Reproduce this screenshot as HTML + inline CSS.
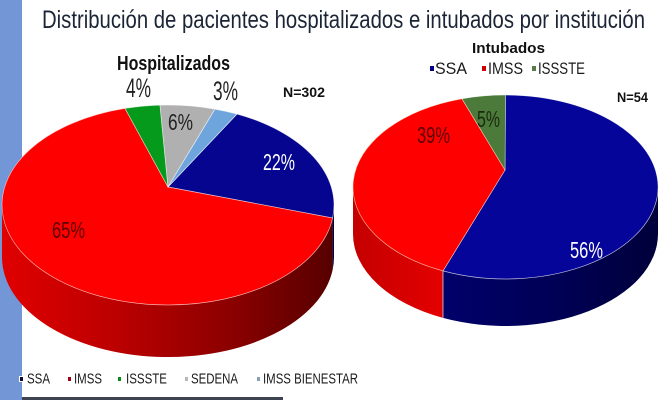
<!DOCTYPE html>
<html><head><meta charset="utf-8"><style>
html,body{margin:0;padding:0;background:#fff;}
svg{display:block;}
text{font-family:"Liberation Sans",Arial,sans-serif;}
</style></head><body>
<svg width="660" height="400" viewBox="0 0 660 400" xmlns="http://www.w3.org/2000/svg">
<defs>
<linearGradient id="rs1" x1="0" y1="0" x2="1" y2="0">
<stop offset="0" stop-color="#e00000"/>
<stop offset="0.35" stop-color="#bb0000"/>
<stop offset="0.7" stop-color="#8a0000"/>
<stop offset="1" stop-color="#560000"/>
</linearGradient>
<linearGradient id="rs2" x1="0" y1="0" x2="1" y2="0">
<stop offset="0" stop-color="#c40000"/>
<stop offset="1" stop-color="#e40000"/>
</linearGradient>
<linearGradient id="bs2" x1="0" y1="0" x2="1" y2="0">
<stop offset="0" stop-color="#00006a"/>
<stop offset="0.6" stop-color="#000052"/>
<stop offset="1" stop-color="#00003a"/>
</linearGradient>
</defs>
<rect width="660" height="400" fill="#fff"/>
<rect x="0" y="0" width="22" height="400" fill="#7396d6"/>
<rect x="22" y="397" width="261" height="3" fill="#3d4350"/>

<text x="42" y="28" font-size="25" fill="#1c2536" textLength="603" lengthAdjust="spacingAndGlyphs">Distribución de pacientes hospitalizados e intubados por institución</text>

<!-- Left pie: Hospitalizados -->
<path d="M332.6,218 A166,100 0 0 1 2,205 L2,257 A166,100 0 0 0 332.6,270 Z" fill="url(#rs1)"/>
<path d="M334,205 A166,100 0 0 1 332.6,218 L332.6,270 A166,100 0 0 0 334,257 Z" fill="#00003f"/>
<path d="M168,187 L237,114 A166,100 0 0 1 332.6,218 Z" fill="#05058f" stroke="#fff" stroke-width="0.7" stroke-opacity="0.7"/>
<path d="M168,187 L332.6,218 A166,100 0 1 1 125,108.4 Z" fill="#fe0000" stroke="#ffe0e0" stroke-width="0.7" stroke-opacity="0.7"/>
<path d="M168,187 L125,108.4 A166,100 0 0 1 160,105.1 Z" fill="#069a1c" stroke="#fff" stroke-width="0.7" stroke-opacity="0.6"/>
<path d="M168,187 L160,105.1 A166,100 0 0 1 215,109.1 Z" fill="#b0b0b0" stroke="#fff" stroke-width="0.7" stroke-opacity="0.6"/>
<path d="M168,187 L215,109.1 A166,100 0 0 1 237,114 Z" fill="#6ea5dc" stroke="#fff" stroke-width="0.7" stroke-opacity="0.7"/>

<text x="117" y="70" font-size="20" font-weight="bold" fill="#111" textLength="113" lengthAdjust="spacingAndGlyphs">Hospitalizados</text>
<text x="126" y="97" font-size="27" fill="#222" textLength="25" lengthAdjust="spacingAndGlyphs">4%</text>
<text x="213" y="100" font-size="27" fill="#222" textLength="25" lengthAdjust="spacingAndGlyphs">3%</text>
<text x="283" y="97" font-size="14" font-weight="bold" fill="#111" textLength="42" lengthAdjust="spacingAndGlyphs">N=302</text>
<text x="168" y="130" font-size="23" fill="#222" textLength="25" lengthAdjust="spacingAndGlyphs">6%</text>
<text x="263" y="170" font-size="23" fill="#fff" textLength="32" lengthAdjust="spacingAndGlyphs">22%</text>
<text x="52" y="238" font-size="23" fill="#5c0000" textLength="33" lengthAdjust="spacingAndGlyphs">65%</text>

<!-- Right pie: Intubados -->
<path d="M658,187 A152.5,92 0 0 1 443,270.9 L443,317.9 A152.5,92 0 0 0 658,234 Z" fill="url(#bs2)"/>
<path d="M443,270.9 A152.5,92 0 0 1 353,187 L353,234 A152.5,92 0 0 0 443,317.9 Z" fill="url(#rs2)"/>
<path d="M505,170 L505.5,95 A152.5,92 0 1 1 443,270.9 Z" fill="#05059a" stroke="#fff" stroke-width="0.7" stroke-opacity="0.7"/>
<path d="M505,170 L443,270.9 A152.5,92 0 0 1 462,98.8 Z" fill="#fe0000" stroke="#ffe0c0" stroke-width="0.7" stroke-opacity="0.7"/>
<path d="M505,170 L462,98.8 A152.5,92 0 0 1 505.5,95 Z" fill="#4c7a3a" stroke="#fff" stroke-width="0.6" stroke-opacity="0.6"/>
<line x1="443" y1="270.9" x2="443" y2="317.9" stroke="#fff" stroke-width="0.8" stroke-opacity="0.8"/>

<text x="472" y="53" font-size="15" font-weight="bold" fill="#111" textLength="73" lengthAdjust="spacingAndGlyphs">Intubados</text>
<rect x="430" y="66" width="4" height="5" fill="#000080"/>
<text x="435" y="74" font-size="17" fill="#1a1a1a" textLength="32" lengthAdjust="spacingAndGlyphs">SSA</text>
<rect x="482" y="66" width="4" height="5" fill="#d00000"/>
<text x="488" y="74" font-size="17" fill="#1a1a1a" textLength="35" lengthAdjust="spacingAndGlyphs">IMSS</text>
<rect x="532" y="66" width="4" height="5" fill="#5a7a4a"/>
<text x="538" y="74" font-size="17" fill="#1a1a1a" textLength="47" lengthAdjust="spacingAndGlyphs">ISSSTE</text>
<text x="617" y="102" font-size="14" font-weight="bold" fill="#111" textLength="31" lengthAdjust="spacingAndGlyphs">N=54</text>
<text x="417" y="143" font-size="23" fill="#5c0000" textLength="33" lengthAdjust="spacingAndGlyphs">39%</text>
<text x="477" y="127" font-size="23" fill="#1a2a10" textLength="23" lengthAdjust="spacingAndGlyphs">5%</text>
<text x="570" y="258" font-size="23" fill="#fff" textLength="33" lengthAdjust="spacingAndGlyphs">56%</text>

<!-- Bottom legend -->
<rect x="19" y="376" width="5" height="6" fill="#fff"/>
<rect x="20" y="377" width="3" height="4" fill="#0a0a30"/>
<text x="27" y="383.5" font-size="15" fill="#1a1a1a" textLength="23" lengthAdjust="spacingAndGlyphs">SSA</text>
<rect x="68" y="377" width="3" height="4" fill="#a00010"/>
<text x="74" y="383.5" font-size="15" fill="#1a1a1a" textLength="28" lengthAdjust="spacingAndGlyphs">IMSS</text>
<rect x="118" y="377" width="3" height="4" fill="#0a8a1a"/>
<text x="126" y="383.5" font-size="15" fill="#1a1a1a" textLength="41" lengthAdjust="spacingAndGlyphs">ISSSTE</text>
<rect x="185" y="377" width="3" height="4" fill="#b8b8b8"/>
<text x="191" y="383.5" font-size="15" fill="#1a1a1a" textLength="47" lengthAdjust="spacingAndGlyphs">SEDENA</text>
<rect x="257" y="377" width="3" height="4" fill="#8aa0b0"/>
<text x="263" y="383.5" font-size="15" fill="#1a1a1a" textLength="95" lengthAdjust="spacingAndGlyphs">IMSS BIENESTAR</text>
</svg>
</body></html>
